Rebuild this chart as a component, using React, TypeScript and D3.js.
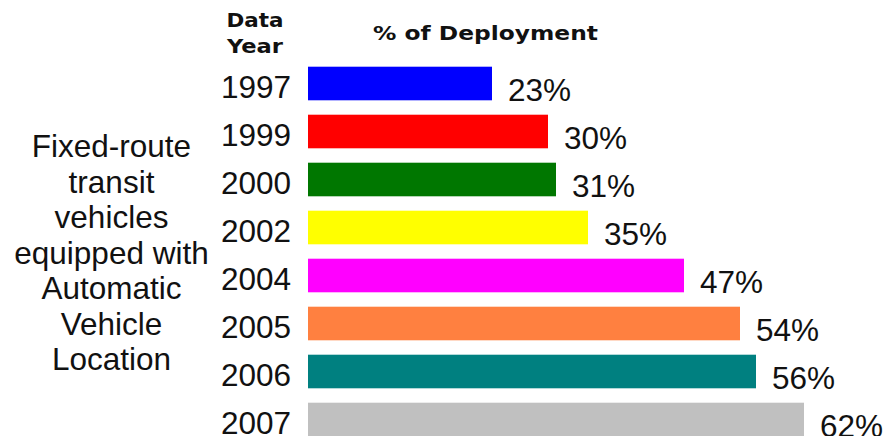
import React from "react";
import { scaleBand, scaleLinear } from "d3";

const years = ["1997", "1999", "2000", "2002", "2004", "2005", "2006", "2007"];
const deployment = [23, 30, 31, 35, 47, 54, 56, 62];
const barColors = ["#0000ff", "#ff0000", "#007700", "#ffff00", "#ff00ff", "#ff8040", "#008080", "#c0c0c0"];
const sideLabel = ["Fixed-route", "transit", "vehicles", "equipped with", "Automatic", "Vehicle", "Location"];

const W = 886;
const H = 436;
const numFont = "'Liberation Sans', Arial, sans-serif";
const headFont = "'DejaVu Sans', Verdana, sans-serif";

export default function App() {
  const x = scaleLinear().domain([0, 100]).range([308, 1108]);
  const y = scaleBand<string>()
    .domain(years)
    .range([59.5, 59.5 + years.length * 48])
    .paddingInner(0.3)
    .paddingOuter(0.15);

  return (
    <svg
      width={W}
      height={H}
      style={{ position: "fixed", left: 0, top: 0, background: "#fff" }}
    >
      {/* headers */}
      <g fontFamily={headFont} fontWeight="bold" fontSize={20} fill="#111">
        <text x={255} y={27} textAnchor="middle" textLength={57} lengthAdjust="spacingAndGlyphs">Data</text>
        <text x={255} y={53} textAnchor="middle" textLength={56} lengthAdjust="spacingAndGlyphs">Year</text>
        <text x={373} y={40} textLength={225} lengthAdjust="spacingAndGlyphs">% of Deployment</text>
      </g>

      {/* description on the left */}
      <g fontFamily={numFont} fontSize={31.5} fill="#111" textAnchor="middle">
        {sideLabel.map((s, i) => (
          <text key={s} x={111.5} y={157 + i * 35.5}>{s}</text>
        ))}
      </g>

      {years.map((yr, i) => {
        const y0 = y(yr)!;
        const bw = y.bandwidth();
        return (
          <g key={yr}>
            <rect x={x(0)} y={y0} width={x(deployment[i]) - x(0)} height={bw} fill={barColors[i]} />
            <text x={291} y={y0 + bw - 2.5} textAnchor="end" fontFamily={numFont} fontSize={31.5} fill="#111">
              {yr}
            </text>
            <text x={x(deployment[i]) + 16} y={y0 + bw + 0.5} fontFamily={numFont} fontSize={31.5} fill="#111">
              {deployment[i]}%
            </text>
          </g>
        );
      })}
    </svg>
  );
}
